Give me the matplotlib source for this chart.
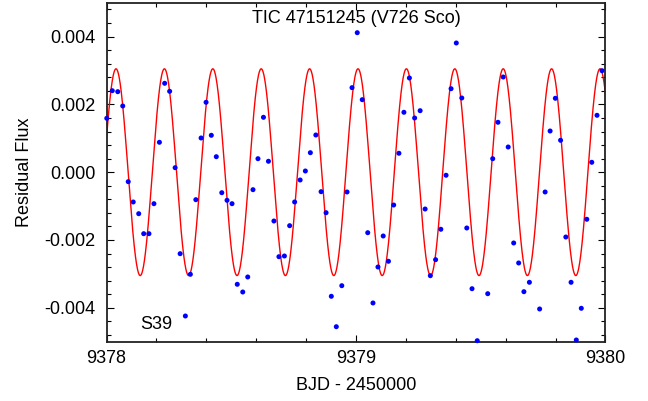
import numpy as np
from matplotlib import pyplot as plt
from matplotlib.ticker import MultipleLocator

plt.rcParams['font.family'] = ['Liberation Sans', 'DejaVu Sans']

# residual flux points (BJD - 2450000, flux)
bjd = [9378.001, 9378.023, 9378.045, 9378.065, 9378.087, 9378.107, 9378.129, 9378.149,
       9378.170, 9378.190, 9378.212, 9378.233, 9378.253, 9378.275, 9378.295, 9378.316,
       9378.336, 9378.358, 9378.379, 9378.399, 9378.420, 9378.440, 9378.462, 9378.483,
       9378.503, 9378.524, 9378.546, 9378.566, 9378.587, 9378.607, 9378.629, 9378.649,
       9378.671, 9378.691, 9378.713, 9378.734, 9378.754, 9378.776, 9378.797, 9378.817,
       9378.839, 9378.860, 9378.880, 9378.901, 9378.921, 9378.943, 9378.964, 9378.984,
       9379.005, 9379.025, 9379.047, 9379.068, 9379.088, 9379.109, 9379.130, 9379.151,
       9379.172, 9379.192, 9379.214, 9379.235, 9379.257, 9379.277, 9379.298, 9379.319,
       9379.340, 9379.361, 9379.381, 9379.402, 9379.424, 9379.444, 9379.465, 9379.486,
       9379.528, 9379.548, 9379.569, 9379.590, 9379.610, 9379.632, 9379.652, 9379.673,
       9379.695, 9379.736, 9379.758, 9379.778, 9379.799, 9379.820, 9379.841, 9379.862,
       9379.883, 9379.903, 9379.925, 9379.945, 9379.966, 9379.986]
flux = [1.590, 2.404, 2.375, 1.953, -0.280, -0.879, -1.224, -1.814,
        -1.814, -0.929, 0.882, 2.622, 2.386, 0.133, -2.404, -4.242,
        -3.012, -0.811, 1.009, 2.062, 1.088, 0.457, -0.605, -0.829,
        -0.929, -3.307, -3.534, -3.091, -0.516, 0.398, 1.619, 0.322,
        -1.440, -2.493, -2.472, -1.578, -0.879, -0.230, 0.035, 0.575,
        1.097, -0.575, -1.195, -3.661, -4.558, -3.348, -0.584, 2.493,
        4.115, 2.139, -1.785, -3.858, -2.796, -1.882, -2.628, -0.968,
        0.558, 1.767, 2.779, 1.599, 1.814, -1.086, -3.053, -2.581,
        -1.684, -0.091, 2.463, 3.811, 2.189, -1.646, -3.437, -4.971,
        -3.584, 0.398, 1.472, 2.808, 0.743, -2.088, -2.678, -3.525,
        -3.248, -4.035, -0.584, 1.215, 2.180, 0.941, -1.912, -3.248,
        -4.950, -4.015, -1.389, 0.292, 1.678, 2.994]
flux = np.array(flux) * 1e-3

# fitted sinusoid
amp = 0.00305
period = 0.194     # [d]
t_peak = 9378.038

t_model = np.linspace(9378, 9380, 2000)
f_model = amp * np.cos(2 * np.pi * (t_model - t_peak) / period)

fig = plt.figure(figsize=(6.48, 4.01), dpi=100)
ax = fig.add_axes([0.1644, 0.1479, 0.77, 0.8454])
ax.plot(t_model, f_model, color='red', lw=1.0, zorder=2)
ax.scatter(bjd, flux, s=13, color='blue', edgecolors='none', zorder=3, clip_on=False)

ax.set_xlim(9378, 9380)
ax.set_ylim(-0.005, 0.005)
ax.xaxis.set_major_locator(MultipleLocator(1))
ax.xaxis.set_minor_locator(MultipleLocator(0.2))
ax.yaxis.set_major_locator(MultipleLocator(0.002))
ax.yaxis.set_minor_locator(MultipleLocator(0.0004))
ax.xaxis.set_major_formatter(plt.FuncFormatter(lambda v, p: "%d" % v))
ax.yaxis.set_major_formatter(plt.FuncFormatter(lambda v, p: "%.3f" % v))
ax.tick_params(which='both', direction='in', top=True, right=True, labelsize=13, width=0.8)
ax.tick_params(axis='y', which='major', length=5, pad=8)
ax.tick_params(axis='x', which='major', length=5, pad=6)
ax.tick_params(which='minor', length=3)
for s in ax.spines.values():
    s.set_linewidth(1.3)
    s.set_color('#222222')

ax.set_xlabel("BJD - 2450000", fontsize=13, labelpad=7)
ax.set_ylabel("Residual Flux", fontsize=13, labelpad=8)
ax.text(0.5, 0.953, "TIC 47151245 (V726 Sco)", transform=ax.transAxes, ha='center', va='center', fontsize=13)
ax.text(0.1, 0.05, "S39", transform=ax.transAxes, ha='center', va='center', fontsize=13)

fig.savefig("out.png", dpi=100)
